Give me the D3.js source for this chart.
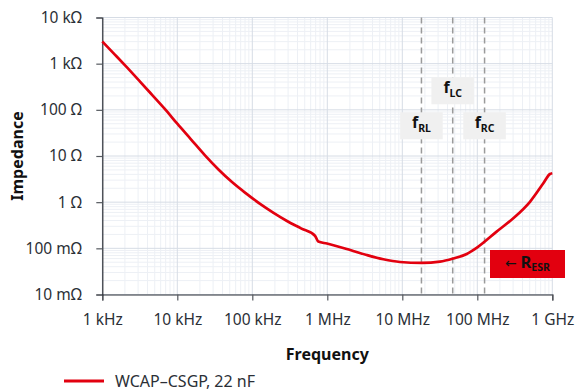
<!DOCTYPE html>
<html>
<head>
<meta charset="utf-8">
<script src="https://cdn.jsdelivr.net/npm/d3@7/dist/d3.min.js"></script>
<style>
  html, body { margin: 0; padding: 0; background: #fff; }
  svg { display: block; font-family: "Noto Sans", "DejaVu Sans", sans-serif; }
</style>
</head>
<body>
<svg id="chart" width="577" height="392"></svg>
<script>
// Impedance curve of WCAP-CSGP 22 nF (frequency in Hz, impedance in ohms)
const freqHz = [1.0e3, 1.47e3, 2.15e3, 3.16e3, 4.64e3, 6.81e3, 1.0e4, 1.52e4, 2.34e4,
  3.54e4, 5.36e4, 8.24e4, 1.27e5, 1.92e5, 2.9e5, 4.46e5, 6.85e5, 7.59e5, 9.9e5,
  2.02e6, 3.35e6, 5.58e6, 9.3e6, 1.82e7, 3.18e7, 4.79e7, 7.23e7, 1.0e8,
  1.81e8, 3.02e8, 5.04e8, 7.59e8, 9.31e8, 1.0e9];
const impedanceOhm = [3020, 1570, 818, 415, 209, 105, 50, 23.0, 10.3,
  5.10, 2.72, 1.55, 0.918, 0.586, 0.391, 0.270, 0.187, 0.140, 0.127,
  0.092, 0.0718, 0.058, 0.0506, 0.0482, 0.0514, 0.0603, 0.0755, 0.105,
  0.230, 0.448, 1.02, 2.56, 4.07, 4.23];

// Characteristic frequencies marked on the chart
const markerNames = ["RL", "LC", "RC"];
const markerFreq = [18e6, 47e6, 125e6];

const xTickValues = [1e3, 1e4, 1e5, 1e6, 1e7, 1e8, 1e9];
const xTickLabels = ["1 kHz", "10 kHz", "100 kHz", "1 MHz", "10 MHz", "100 MHz", "1 GHz"];
const yTickValues = [0.01, 0.1, 1, 10, 100, 1000, 10000];
const yTickLabels = ["10 mΩ", "100 mΩ", "1 Ω", "10 Ω", "100 Ω", "1 kΩ", "10 kΩ"];

const seriesName = "WCAP–CSGP, 22 nF";
const red = "#e2000f";

const svg = d3.select("#chart");
const W = 577, H = 392;
const m = { left: 102.3, right: 24.7, top: 17.5, bottom: 97.5 };

const x = d3.scaleLog().domain([1e3, 1e9]).range([m.left, W - m.right]);
const y = d3.scaleLog().domain([0.01, 10000]).range([H - m.bottom, m.top]);

// Minor and major grid
const minorX = [], minorY = [];
for (let e = 3; e < 9; e++) for (let k = 2; k <= 9; k++) minorX.push(k * Math.pow(10, e));
for (let e = -2; e < 4; e++) for (let k = 2; k <= 9; k++) minorY.push(k * Math.pow(10, e));

const grid = svg.append("g");
grid.selectAll(".mx").data(minorX).join("line")
  .attr("x1", d => x(d)).attr("x2", d => x(d))
  .attr("y1", m.top).attr("y2", H - m.bottom)
  .attr("stroke", "#edf0f5").attr("stroke-width", 1);
grid.selectAll(".my").data(minorY).join("line")
  .attr("y1", d => y(d)).attr("y2", d => y(d))
  .attr("x1", m.left).attr("x2", W - m.right)
  .attr("stroke", "#edf0f5").attr("stroke-width", 1);
grid.selectAll(".Mx").data(xTickValues).join("line")
  .attr("x1", d => x(d)).attr("x2", d => x(d))
  .attr("y1", m.top).attr("y2", H - m.bottom)
  .attr("stroke", "#d6dce5").attr("stroke-width", 1);
grid.selectAll(".My").data(yTickValues).join("line")
  .attr("y1", d => y(d)).attr("y2", d => y(d))
  .attr("x1", m.left).attr("x2", W - m.right)
  .attr("stroke", "#d6dce5").attr("stroke-width", 1);

// Dashed marker lines
svg.append("g").selectAll("line").data(markerFreq).join("line")
  .attr("x1", d => x(d)).attr("x2", d => x(d))
  .attr("y1", m.top).attr("y2", H - m.bottom)
  .attr("stroke", "#9a9a9a").attr("stroke-width", 1.5)
  .attr("stroke-dasharray", "6,4");

// Axes
const xAxis = d3.axisBottom(x).tickValues(xTickValues)
  .tickFormat((d, i) => xTickLabels[i]).tickSize(6).tickPadding(13);
const yAxis = d3.axisLeft(y).tickValues(yTickValues)
  .tickFormat((d, i) => yTickLabels[i]).tickSize(6).tickPadding(14.5);

const gx = svg.append("g").attr("transform", `translate(0,${H - m.bottom})`).call(xAxis);
const gy = svg.append("g").attr("transform", `translate(${m.left},0)`).call(yAxis);
[gx, gy].forEach(g => {
  g.select(".domain").attr("stroke", "#2b2f36").attr("stroke-width", 1.2);
  g.selectAll(".tick line").attr("stroke", "#55595f").attr("stroke-width", 1.2);
  g.selectAll(".tick text").attr("fill", "#2b2f36")
    .style("font-size", "15.5px").style("font-family", "'Noto Sans', sans-serif");
});

// Impedance curve
const line = d3.line().x((d, i) => x(freqHz[i])).y(d => y(d)).curve(d3.curveMonotoneX);
svg.append("path").datum(impedanceOhm)
  .attr("d", line).attr("fill", "none")
  .attr("stroke", red).attr("stroke-width", 2.7).attr("stroke-linejoin", "round");

// Marker labels
const labelY = { RL: 125.8, LC: 90.8, RC: 125.8 };
const lab = svg.append("g").selectAll("g").data(markerNames).join("g")
  .attr("transform", (d, i) => `translate(${x(markerFreq[i])},${labelY[d]})`);
lab.append("rect").attr("x", -21.3).attr("y", -13.5).attr("width", 42.6).attr("height", 27)
  .attr("fill", "#f0f0f0");
const lt = lab.append("text").attr("text-anchor", "middle").attr("y", 2.6)
  .attr("fill", "#111").style("font-weight", "bold");
lt.append("tspan").style("font-size", "16px").text("f");
lt.append("tspan").attr("dy", 3.2).style("font-size", "10.5px").text(d => d);

// ESR indicator
const esr = svg.append("g").attr("transform", "translate(490,250)");
esr.append("rect").attr("width", 75).attr("height", 28).attr("fill", red);
const et = esr.append("text").attr("x", 37.5).attr("y", 18).attr("text-anchor", "middle").attr("fill", "#111");
et.append("tspan").style("font-size", "14px").text("← ");
et.append("tspan").style("font-size", "16.5px").style("font-weight", "bold").text("R");
et.append("tspan").attr("dy", 3.2).style("font-size", "10.5px").style("font-weight", "bold").text("ESR");

// Axis titles
svg.append("text").attr("x", (m.left + W - m.right) / 2).attr("y", 360)
  .attr("text-anchor", "middle").attr("fill", "#111")
  .style("font-size", "16px").style("font-weight", "bold").text("Frequency");
svg.append("text").attr("transform", `translate(23,${(m.top + H - m.bottom) / 2}) rotate(-90)`)
  .attr("text-anchor", "middle").attr("fill", "#111")
  .style("font-size", "16px").style("font-weight", "bold").text("Impedance");

// Legend
const leg = svg.append("g").attr("transform", "translate(64,381)");
leg.append("line").attr("x1", 0).attr("x2", 40).attr("stroke", red).attr("stroke-width", 3);
leg.append("text").attr("x", 51).attr("y", 5.5).attr("fill", "#2b2f36")
  .style("font-size", "16px").text(seriesName);
</script>
</body>
</html>
